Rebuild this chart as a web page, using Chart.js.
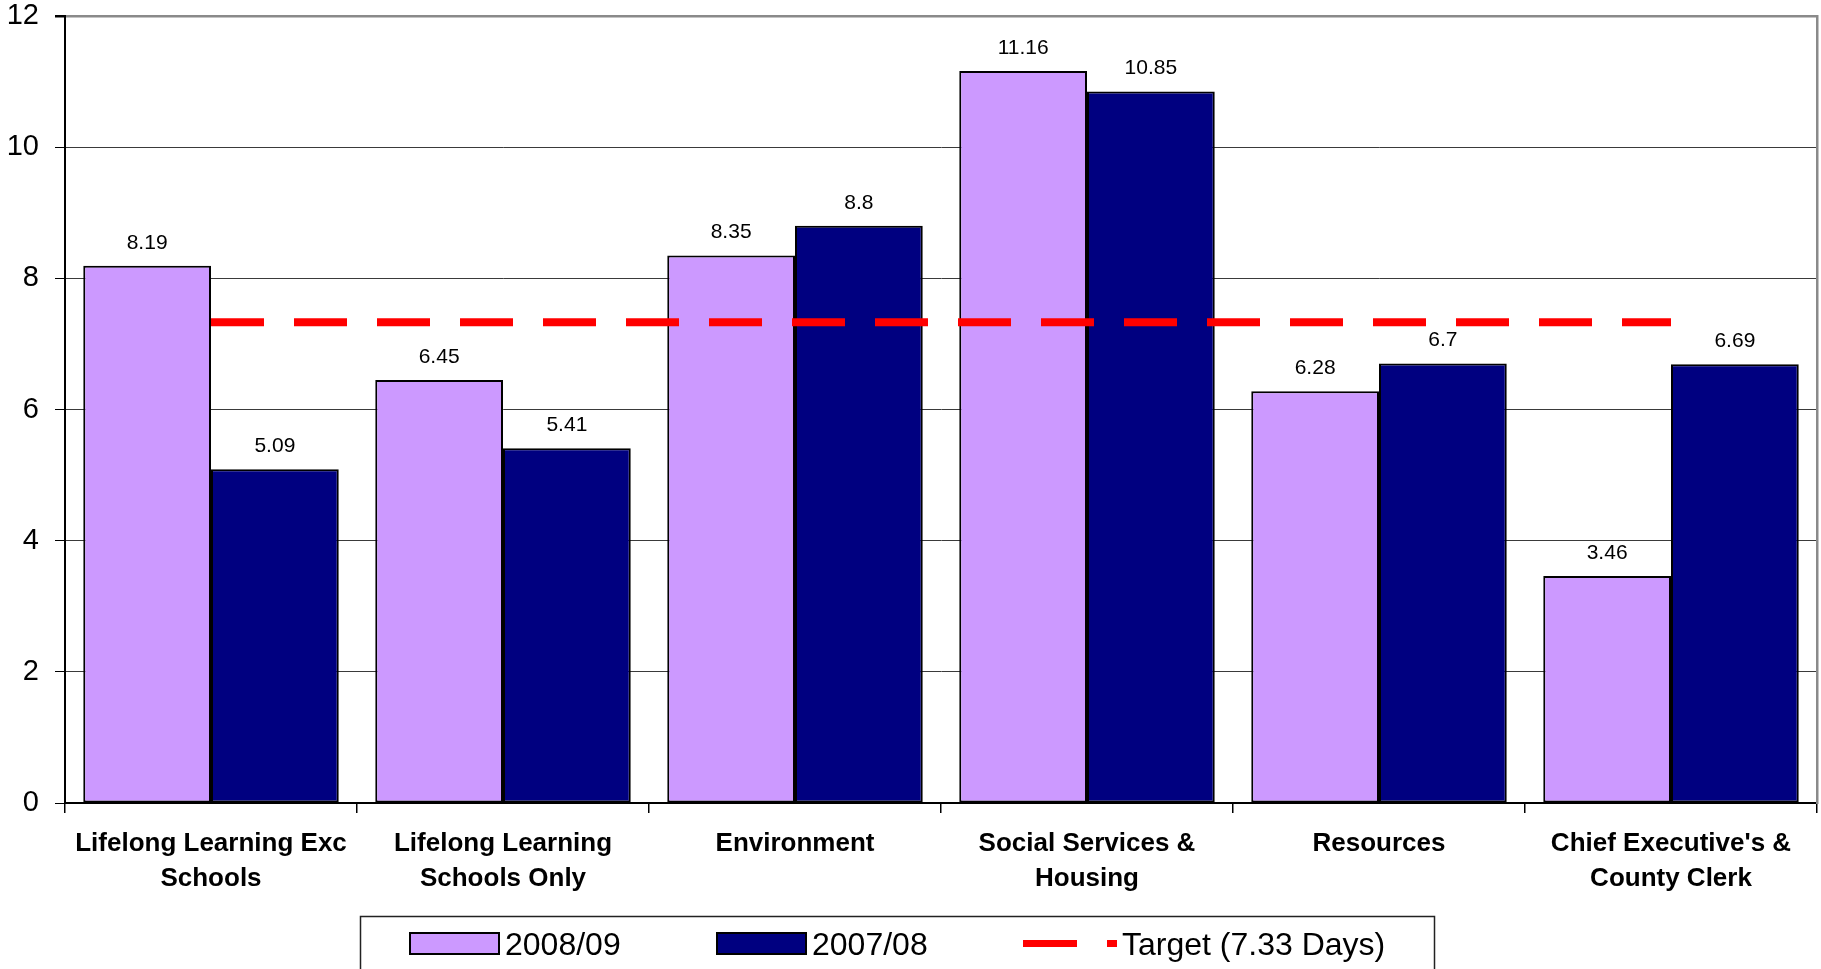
<!DOCTYPE html>
<html>
<head>
<meta charset="utf-8">
<script src="https://cdn.jsdelivr.net/npm/chart.js@4.4.1/dist/chart.umd.min.js"></script>
<style>
  html, body { margin: 0; padding: 0; background: #fff; }
  #wrap { width: 1821px; height: 969px; position: relative; }
</style>
</head>
<body>
<div id="wrap"><canvas id="c"></canvas></div>
<script>
// Sickness absence (days per employee) by directorate
const categories = [
  ['Lifelong Learning Exc', 'Schools'],
  ['Lifelong Learning', 'Schools Only'],
  'Environment',
  ['Social Services &', 'Housing'],
  'Resources',
  ["Chief Executive's &", 'County Clerk']
];
const days2008 = [8.19, 6.45, 8.35, 11.16, 6.28, 3.46];
const days2007 = [5.09, 5.41, 8.8, 10.85, 6.7, 6.69];
const targetDays = 7.33;
const targetSeries = categories.map(() => targetDays);
const yTicks = [0, 2, 4, 6, 8, 10, 12];

const FONT = '"Liberation Sans", Arial, Helvetica, sans-serif';

// value labels above each bar
const barValueLabels = {
  id: 'barValueLabels',
  afterDatasetsDraw(chart) {
    const ctx = chart.ctx;
    ctx.save();
    ctx.font = '21px ' + FONT;
    ctx.fillStyle = '#000';
    ctx.textAlign = 'center';
    ctx.textBaseline = 'middle';
    chart.data.datasets.forEach((ds, di) => {
      if (ds.type === 'line') return;
      const meta = chart.getDatasetMeta(di);
      meta.data.forEach((el, i) => {
        ctx.fillText(String(ds.data[i]), el.x, el.y - 23);
      });
    });
    ctx.restore();
  }
};

// boxed legend along the bottom edge
const boxedLegend = {
  id: 'boxedLegend',
  afterDraw(chart) {
    const ctx = chart.ctx;
    const ds = chart.data.datasets;
    ctx.save();
    ctx.strokeStyle = '#222';
    ctx.lineWidth = 1.5;
    ctx.strokeRect(360.5, 916.5, 1074, 80);

    const cy = 943.5;
    ctx.font = '32px ' + FONT;
    ctx.textBaseline = 'middle';
    ctx.textAlign = 'left';

    const swatches = [
      { x: 410, ds: ds[1] },
      { x: 717, ds: ds[2] }
    ];
    swatches.forEach(s => {
      ctx.fillStyle = s.ds.backgroundColor;
      ctx.fillRect(s.x, cy - 10.5, 89, 21);
      ctx.strokeStyle = '#000';
      ctx.lineWidth = 2;
      ctx.strokeRect(s.x, cy - 10.5, 89, 21);
      ctx.fillStyle = '#000';
      ctx.fillText(s.ds.label, s.x + 95, cy + 3);
    });

    const t = ds[0];
    ctx.strokeStyle = t.borderColor;
    ctx.lineWidth = 7;
    ctx.setLineDash([54, 30]);
    ctx.beginPath();
    ctx.moveTo(1023, cy);
    ctx.lineTo(1117, cy);
    ctx.stroke();
    ctx.setLineDash([]);
    ctx.fillStyle = '#000';
    ctx.fillText(t.label, 1122, cy + 3);
    ctx.restore();
  }
};

new Chart(document.getElementById('c'), {
  data: {
    labels: categories,
    datasets: [
      {
        type: 'line',
        label: 'Target (7.33 Days)',
        data: targetSeries,
        borderColor: '#FF0000',
        backgroundColor: '#FF0000',
        borderWidth: 8,
        borderDash: [53, 30],
        borderCapStyle: 'butt',
        pointRadius: 0,
        tension: 0,
        order: 0
      },
      {
        type: 'bar',
        label: '2008/09',
        data: days2008,
        backgroundColor: '#CC99FF',
        borderColor: '#000',
        borderWidth: 2,
        borderSkipped: false,
        order: 1
      },
      {
        type: 'bar',
        label: '2007/08',
        data: days2007,
        backgroundColor: '#000080',
        borderColor: '#000',
        borderWidth: 2,
        borderSkipped: false,
        order: 1
      }
    ]
  },
  options: {
    responsive: true,
    maintainAspectRatio: false,
    animation: false,
    events: [],
    categoryPercentage: 0.875,
    barPercentage: 1.0,
    layout: { padding: { top: 16, left: 0, right: 0, bottom: 0 } },
    plugins: {
      legend: { display: false },
      tooltip: { enabled: false },
      title: { display: false }
    },
    scales: {
      x: {
        type: 'category',
        offset: true,
        grid: {
          offset: true,
          drawOnChartArea: false,
          drawTicks: true,
          tickLength: 10,
          color: '#000',
          lineWidth: 1.5
        },
        border: { display: true, color: '#000', width: 2 },
        ticks: {
          color: '#000',
          padding: 14,
          maxRotation: 0,
          autoSkip: false,
          font: { family: FONT, size: 26, weight: 'bold', lineHeight: 1.33 }
        },
        afterFit(scale) {
          scale.height = 166;
          scale.paddingLeft = 0;
          scale.paddingRight = 0;
        }
      },
      y: {
        position: 'left',
        min: 0,
        max: 12,
        afterBuildTicks(scale) {
          scale.ticks = yTicks.map(v => ({ value: v }));
        },
        grid: {
          color: ctx => (ctx.tick && ctx.tick.value === 12) ? '#8a8a8a' : '#3a3a3a',
          lineWidth: ctx => (ctx.tick && ctx.tick.value === 12) ? 2.5 : 1,
          tickColor: '#000',
          tickLength: 10,
          drawTicks: true
        },
        border: { display: true, color: '#000', width: 2 },
        ticks: {
          color: '#000',
          padding: 16,
          font: { family: FONT, size: 29, lineHeight: 1 }
        },
        afterFit(scale) {
          scale.width = 65;
          scale.paddingTop = 0;
          scale.paddingBottom = 0;
        }
      },
      yr: {
        position: 'right',
        min: 0,
        max: 12,
        grid: { display: false, drawTicks: false },
        ticks: { display: false },
        border: { display: true, color: '#8a8a8a', width: 2.5 },
        afterFit(scale) {
          scale.width = 4;
          scale.paddingTop = 0;
          scale.paddingBottom = 0;
        }
      }
    }
  },
  plugins: [barValueLabels, boxedLegend]
});
</script>
</body>
</html>
